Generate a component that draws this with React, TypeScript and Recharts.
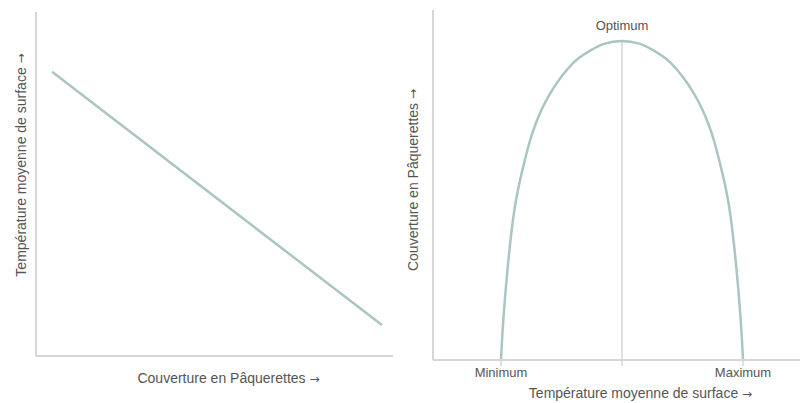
import { LineChart, Line, XAxis, YAxis, ReferenceLine, ReferenceDot, Label } from "recharts"

const AXIS = "#d6d6d6"
const LINE = "#aac5c3"
const TEXT = "#555555"
const FONT = "'Liberation Sans', Arial, sans-serif"

// left panel: daisy cover vs mean surface temperature (straight decline)
const leftCover = [4.5, 96.9]
const leftTemp = [82.6, 9.0]

// right panel: daisy cover as a function of temperature
const curveTemp = [
  18.53, 18.94, 19.62, 20.44, 21.39, 22.62, 24.8, 26.43, 27.79, 29.7, 31.61, 33.79, 36.78, 39.51, 43.05, 46.59,
  51.5,
  56.4, 59.95, 63.49, 66.21, 69.21, 71.39, 73.3, 75.2, 76.57, 78.2, 80.38, 81.61, 82.56, 83.38, 84.06, 84.47,
]
const curveCover = [
  0, 8.57, 18.0, 27.7, 37.1, 46.6, 56.3, 62.9, 67.1, 72.0, 75.7, 79.4, 83.4, 86.3, 88.6, 90.6,
  91.4,
  90.6, 88.6, 86.3, 83.4, 79.4, 75.7, 72.0, 67.1, 62.9, 56.3, 46.6, 37.1, 27.7, 18.0, 8.57, 0,
]

const tempTicks = [18.53, 51.5, 84.47]
const tempTickLabels = ["Minimum", "", "Maximum"]
const optimum = { temp: 51.5, cover: 91.4 }

const leftData = leftCover.map((x, i) => ({ x, y: leftTemp[i] }))
const rightData = curveTemp.map((x, i) => ({ x, y: curveCover[i] }))

// axis titles end with an arrow, drawn in DejaVu so it reads bigger like the original
const Title = ({ text }: { text: string }) => (
  <>
    {text} <tspan fontFamily="'DejaVu Sans', sans-serif" fontSize={12}>→</tspan>
  </>
)

const xTitle = (text: string, dx: number, dy: number) => (props: any) => {
  const vb = props.viewBox
  return (
    <text
      x={vb.x + vb.width / 2 + dx}
      y={vb.y + dy}
      textAnchor="middle"
      fill={TEXT}
      fontSize={14}
      fontFamily={FONT}
    >
      <Title text={text} />
    </text>
  )
}

const yTitle = (text: string, dx: number, dy: number) => (props: any) => {
  const vb = props.viewBox
  const x = vb.x + vb.width - dx
  const y = vb.y + vb.height / 2 + dy
  return (
    <text
      x={x}
      y={y}
      transform={`rotate(-90 ${x} ${y})`}
      textAnchor="middle"
      dominantBaseline="central"
      fill={TEXT}
      fontSize={14}
      fontFamily={FONT}
    >
      <Title text={text} />
    </text>
  )
}

export default function App() {
  return (
    <div style={{ position: "absolute", left: 0, top: 0, width: 802, height: 403, display: "flex", background: "#fff" }}>
      <LineChart width={400} height={403} data={leftData} margin={{ top: 12, right: 7, bottom: 46, left: 35 }}>
        <XAxis
          dataKey="x"
          type="number"
          domain={[0, 100]}
          ticks={[]}
          tick={false}
          tickLine={false}
          height={1}
          axisLine={{ stroke: AXIS, strokeWidth: 2 }}
        >
          <Label content={xTitle("Couverture en Pâquerettes", 14, 27)} />
        </XAxis>
        <YAxis
          type="number"
          domain={[0, 100]}
          ticks={[]}
          tick={false}
          tickLine={false}
          width={1}
          axisLine={{ stroke: AXIS, strokeWidth: 2 }}
        >
          <Label content={yTitle("Température moyenne de surface", 15, -19)} />
        </YAxis>
        <Line dataKey="y" type="linear" stroke={LINE} strokeWidth={2.5} dot={false} isAnimationActive={false} />
      </LineChart>

      <LineChart width={402} height={403} data={rightData} margin={{ top: 10, right: 2, bottom: 42, left: 32 }}>
        <XAxis
          dataKey="x"
          type="number"
          domain={[0, 100]}
          ticks={tempTicks}
          interval={0}
          tickFormatter={(_v: number, i: number) => tempTickLabels[i]}
          tick={{ fill: TEXT, fontSize: 13, fontFamily: FONT }}
          tickLine={{ stroke: AXIS, strokeWidth: 1.5 }}
          tickSize={6}
          height={1}
          axisLine={{ stroke: AXIS, strokeWidth: 2 }}
        >
          <Label content={xTitle("Température moyenne de surface", 24, 38)} />
        </XAxis>
        <YAxis
          type="number"
          domain={[0, 100]}
          ticks={[]}
          tick={false}
          tickLine={false}
          width={1}
          axisLine={{ stroke: AXIS, strokeWidth: 2 }}
        >
          <Label content={yTitle("Couverture en Pâquerettes", 20, -5)} />
        </YAxis>
        <ReferenceLine
          segment={[{ x: optimum.temp, y: 0 }, { x: optimum.temp, y: optimum.cover }]}
          stroke={AXIS}
          strokeWidth={1.5}
        />
        <Line dataKey="y" type="basis" stroke={LINE} strokeWidth={2.5} dot={false} isAnimationActive={false} />
        <ReferenceDot
          x={optimum.temp}
          y={optimum.cover}
          r={0}
          stroke="none"
          label={{ value: "Optimum", position: "top", offset: 10, fill: TEXT, fontSize: 13, fontFamily: FONT }}
        />
      </LineChart>
    </div>
  )
}
